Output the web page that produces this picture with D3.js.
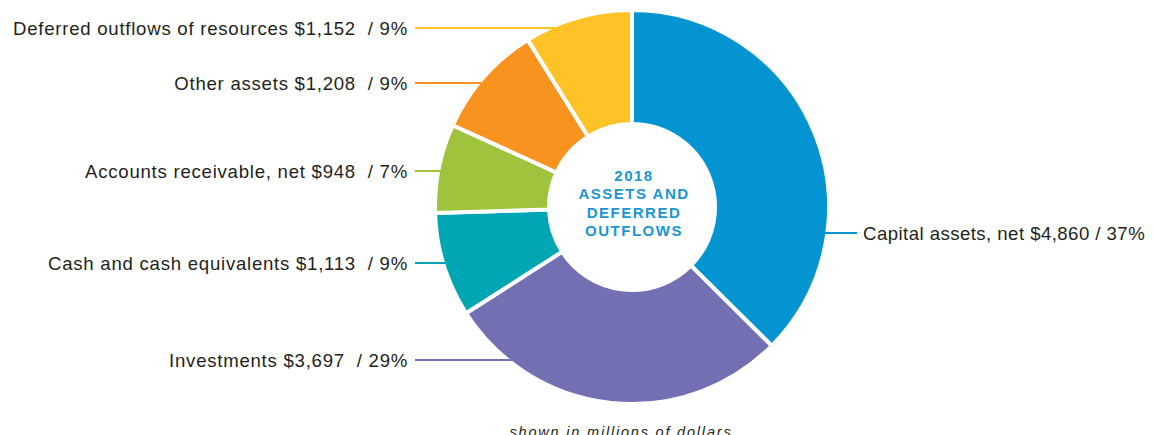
<!DOCTYPE html>
<html>
<head>
<meta charset="utf-8">
<script src="https://d3js.org/d3.v7.min.js"></script>
<style>
  body { margin: 0; background: #fff; }
  svg { display: block; }
</style>
</head>
<body>
<svg id="chart" width="1155" height="435"></svg>
<script>
// data
const categories = ["Capital assets, net", "Investments", "Cash and cash equivalents",
  "Accounts receivable, net", "Other assets", "Deferred outflows of resources"];
const amounts = [4860, 3697, 1113, 948, 1208, 1152];
const amountLabels = ["$4,860", "$3,697", "$1,113", "$948", "$1,208", "$1,152"];
const percentLabels = ["37%", "29%", "9%", "7%", "9%", "9%"];
const colors = ["#0494d2", "#736fb3", "#00a6b4", "#9fc33c", "#f7931e", "#fec327"];
const centerTitle = ["2018", "ASSETS AND", "DEFERRED", "OUTFLOWS"];

// layout: label rows (y) and side
const labelY = [233, 360, 263, 171, 83, 28];
const labelSide = ["right", "left", "left", "left", "left", "left"];

const svg = d3.select("#chart");
const cx = 632, cy = 207, outerR = 197, innerR = 83;

const pie = d3.pie().sort(null).value(d => d);
const arcs = pie(amounts);
const arc = d3.arc().innerRadius(innerR).outerRadius(outerR);

const g = svg.append("g").attr("transform", `translate(${cx},${cy})`);

//slices
g.selectAll("path.slice")
  .data(arcs)
  .join("path")
  .attr("class", "slice")
  .attr("d", arc)
  .attr("fill", (d, i) => colors[i])
  .attr("stroke", "#fff")
  .attr("stroke-width", 4)
  .attr("stroke-linejoin", "miter");

// leader lines + labels
const visR = outerR - 2;
arcs.forEach((d, i) => {
  const y = labelY[i];
  const dy = y - cy;
  const dx = Math.sqrt(Math.max(0, visR * visR - dy * dy));
  const right = labelSide[i] === "right";
  const edgeX = right ? cx + dx - 1 : cx - dx + 1;
  const x1 = right ? 857 : 415;
  svg.append("line")
    .attr("x1", x1).attr("x2", edgeX)
    .attr("y1", y).attr("y2", y)
    .attr("stroke", colors[i])
    .attr("stroke-width", 2);

  const sep = right ? " / " : "  / ";
  svg.append("text")
    .attr("x", right ? 863 : 408)
    .attr("y", y)
    .attr("dy", "0.35em")
    .attr("text-anchor", right ? "start" : "end")
    .attr("font-family", "'Liberation Sans', Arial, sans-serif")
    .attr("font-size", 18.6)
    .attr("letter-spacing", right ? 0.45 : 0.75)
    .attr("fill", "#231f20")
    .style("white-space", "pre")
    .text(categories[i] + " " + amountLabels[i] + sep + percentLabels[i]);
});

// centre title
svg.append("text")
  .attr("text-anchor", "middle")
  .attr("font-family", "'Liberation Sans', Arial, sans-serif")
  .attr("font-weight", "bold")
  .attr("font-size", 15)
  .attr("letter-spacing", 1.5)
  .attr("fill", "#1a96d4")
  .selectAll("tspan")
  .data(centerTitle)
  .join("tspan")
  .attr("x", cx + 2)
  .attr("y", (d, i) => 180.5 + i * 18.5)
  .text(d => d);

// footnote
svg.append("text")
  .attr("x", 621)
  .attr("y", 437)
  .attr("text-anchor", "middle")
  .attr("font-family", "'Liberation Sans', Arial, sans-serif")
  .attr("font-style", "italic")
  .attr("font-size", 14.5)
  .attr("letter-spacing", 1.8)
  .attr("fill", "#231f20")
  .text("shown in millions of dollars");
</script>
</body>
</html>
